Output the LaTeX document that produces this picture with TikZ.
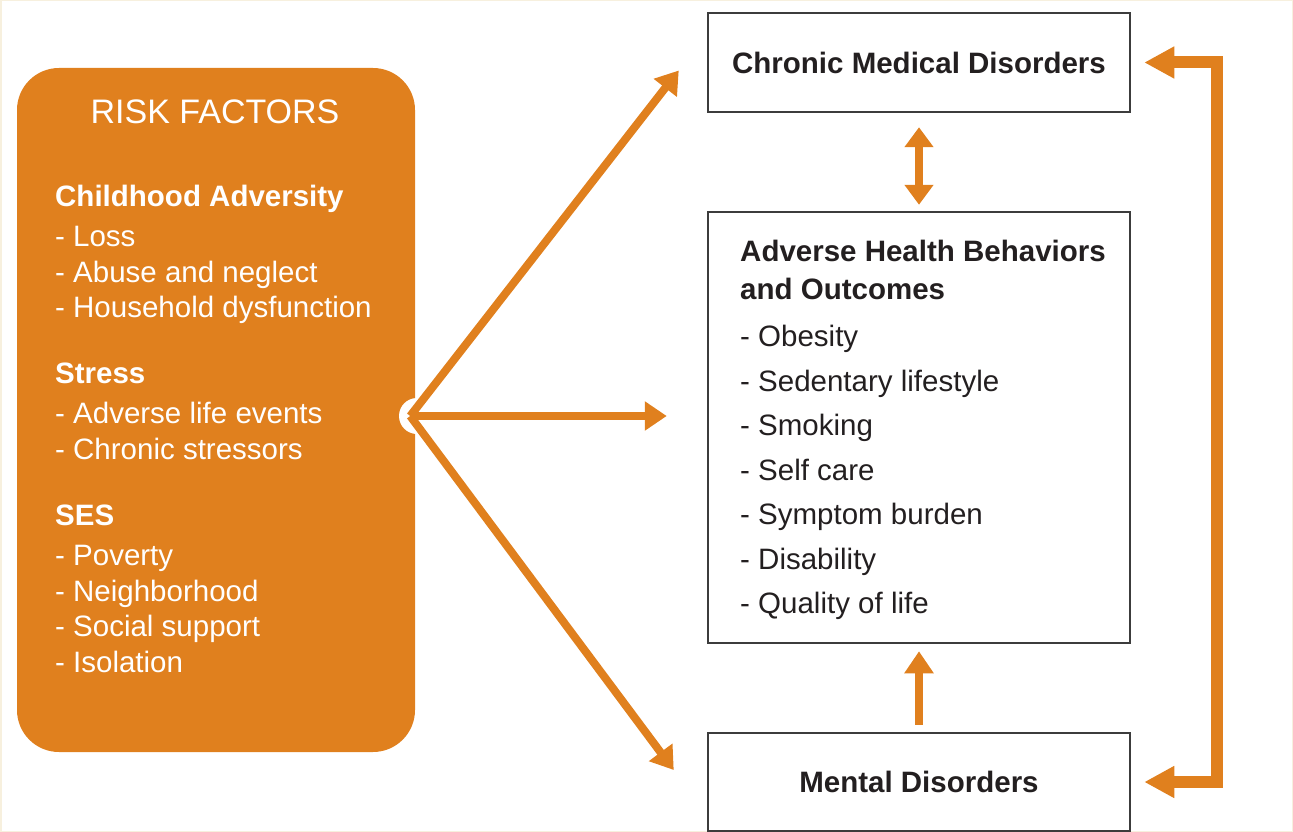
\documentclass[tikz,border=0pt]{standalone}
\usepackage{fontspec}
\setmainfont{Liberation Sans}
\usetikzlibrary{arrows.meta}
\definecolor{riskorange}{RGB}{224,128,30}
\definecolor{boxgray}{RGB}{60,60,60}
\definecolor{framecream}{RGB}{247,240,222}
\definecolor{inkdark}{RGB}{35,31,32}
\newcommand{\bodyfont}{\fontsize{29.5}{35.5}\selectfont}

\begin{document}
\begin{tikzpicture}[x=1pt,y=-1pt,
	outbox/.style={draw=boxgray,line width=2.5pt,minimum width=422pt,inner sep=0pt,font=\bodyfont\bfseries,text=inkdark},
	flow/.style={color=riskorange,line width=8pt,-{Triangle[length=22pt,width=28pt]}},
	bracket/.style={color=riskorange,line width=12pt,line join=miter,{Triangle[length=30pt,width=30pt]}-{Triangle[length=30pt,width=30pt]}}]
	\useasboundingbox (0,0) rectangle (1293,832);
	\draw[framecream,line width=3pt] (0,0) rectangle (1293,832);
	% risk factors
	\node[fill=riskorange,rounded corners=42pt,minimum width=398pt,minimum height=684pt,inner sep=0pt] (risk) at (216,410) {};
	\fill[white] (417,416) circle (18pt);
	\coordinate (hub) at ([shift={(-5,6)}]risk.east);
	\node[text=white,font=\fontsize{34}{40}\selectfont] (title) at (215,112) {RISK FACTORS};
	\node[anchor=north west,inner sep=0pt,align=left,text=white,font=\bodyfont] (factors) at (55,185) {%
		\textbf{Childhood Adversity}\\[4.5pt]
		- Loss\\
		- Abuse and neglect\\
		- Household dysfunction\\[30.5pt]
		\textbf{Stress}\\[4.5pt]
		- Adverse life events\\
		- Chronic stressors\\[31pt]
		\textbf{SES}\\[4.5pt]
		- Poverty\\
		- Neighborhood\\
		- Social support\\
		- Isolation};
	% outcomes
	\node[outbox,minimum height=99pt] (cmd) at (919,62.5) {Chronic Medical Disorders};
	\node[outbox,minimum height=431pt] (ahb) at (919,427.5) {};
	\node[outbox,minimum height=98pt] (md) at (919,782) {Mental Disorders};
	\node[anchor=north west,inner sep=0pt,align=left,text=inkdark,font=\fontsize{29.5}{38}\selectfont] (items) at (740,240) {%
		\textbf{Adverse Health Behaviors}\\
		\textbf{and Outcomes}\\[9pt]
		- Obesity\\[6.5pt]
		- Sedentary lifestyle\\[6.5pt]
		- Smoking\\[6.5pt]
		- Self care\\[6.5pt]
		- Symptom burden\\[6.5pt]
		- Disability\\[6.5pt]
		- Quality of life};
	\path[flow]
		(hub) edge ([shift={(-28,8)}]cmd.west)
		(hub) edge[shorten >=40pt] (hub -| ahb.west)
		(hub) edge ([shift={(-33,-12)}]md.west);
	\draw[flow,{Triangle[length=20pt,width=28pt]}-{Triangle[length=20pt,width=28pt]},shorten <=14pt,shorten >=6pt] (cmd.south) -- (ahb.north);
	\draw[flow,shorten <=7pt,shorten >=7pt] (md.north) -- (ahb.south);
	\draw[bracket,shorten <=13pt,shorten >=13pt] (cmd.east) -- ++(86,0) |- (md.east);
\end{tikzpicture}
\end{document}
